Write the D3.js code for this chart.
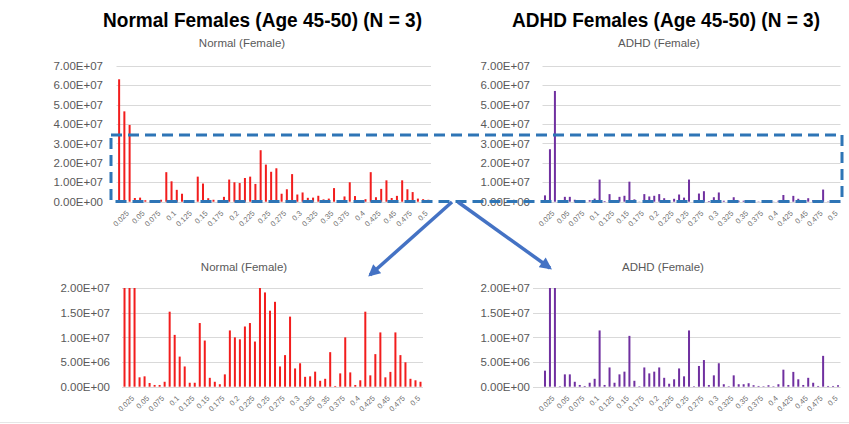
<!DOCTYPE html>
<html>
<head>
<meta charset="utf-8">
<script src="https://cdn.jsdelivr.net/npm/d3@7"></script>
<style>
  body { margin: 0; background: #fff; }
  svg { display: block; font-family: "Liberation Sans", Arial, sans-serif; }
</style>
</head>
<body>
<div id="container"></div>
<script>
// bins along the x axis, only every third one gets a label
const bins = d3.range(60)
const xLabels = ['0.025', '0.05', '0.075', '0.1', '0.125', '0.15', '0.175', '0.2', '0.225', '0.25',
    '0.275', '0.3', '0.325', '0.35', '0.375', '0.4', '0.425', '0.45', '0.475', '0.5']
const labelBins = xLabels.map((d, i) => 1 + i * 3)

const normalFemale = [
    63e6, 46.5e6, 39.5e6, 1.9e6, 2.1e6, 0.75e6, 0.35e6, 0.35e6, 1.0e6, 15.2e6,
    10.5e6, 6.1e6, 4.1e6, 0.8e6, 0.8e6, 12.9e6, 9.35e6, 1.8e6, 1.0e6, 0.5e6,
    2.5e6, 11.4e6, 10.0e6, 9.6e6, 12.2e6, 12.9e6, 9.15e6, 26.5e6, 19.1e6, 15.4e6,
    17.2e6, 4.1e6, 6.4e6, 14.2e6, 3.7e6, 4.75e6, 2.0e6, 2.1e6, 3.05e6, 1.2e6,
    1.6e6, 7.0e6, 0.15e6, 2.7e6, 10.0e6, 2.9e6, 0.35e6, 1.3e6, 15.2e6, 2.3e6,
    6.6e6, 11.0e6, 1.9e6, 3.0e6, 11.0e6, 6.4e6, 4.95e6, 1.6e6, 1.3e6, 1.0e6
]
const adhdFemale = [
    3.25e6, 27e6, 57e6, 0.1e6, 2.5e6, 2.5e6, 1.0e6, 0.35e6, 0.15e6, 0.8e6,
    1.6e6, 11.4e6, 0.35e6, 3.9e6, 0.8e6, 2.5e6, 3.05e6, 10.3e6, 1.2e6, 0.1e6,
    3.9e6, 2.7e6, 3.05e6, 3.9e6, 1.8e6, 0.6e6, 1.5e6, 3.7e6, 2.1e6, 11.4e6,
    0.1e6, 4.2e6, 5.4e6, 0.35e6, 2.3e6, 4.75e6, 0.5e6, 0.1e6, 2.3e6, 0.5e6,
    0.5e6, 0.7e6, 0.3e6, 0.15e6, 0.1e6, 0.3e6, 0.1e6, 0.5e6, 3.45e6, 0.35e6,
    3.0e6, 1.5e6, 0.35e6, 1.8e6, 0.8e6, 0.15e6, 6.25e6, 0.15e6, 0.15e6, 0.3e6
]
const fullTicks = [0, 1e7, 2e7, 3e7, 4e7, 5e7, 6e7, 7e7]
const zoomTicks = [0, 5e6, 1e7, 1.5e7, 2e7]

const width = 849
const height = 424

// Excel style 7.00E+07
const sci = v => {
    if (v === 0) return '0.00E+00'
    const e = Math.floor(Math.log10(v))
    return (v / 10 ** e).toFixed(2) + 'E+' + String(e).padStart(2, '0')
}

const svg = d3.select('#container')
    .append('svg')
    .attr('width', width)
    .attr('height', height)

svg.append('line')
    .attr('x1', 0).attr('x2', width)
    .attr('y1', 422.5).attr('y2', 422.5)
    .attr('stroke', '#e6e6e6')

const titles = [
    { text: 'Normal Females (Age 45-50) (N = 3)', x: 262.5, len: 319 },
    { text: 'ADHD Females (Age 45-50) (N = 3)', x: 666, len: 308 }
]
svg.selectAll('.title').data(titles)
    .join('text')
    .attr('class', 'title')
    .attr('x', d => d.x)
    .attr('y', 27)
    .attr('text-anchor', 'middle')
    .attr('font-size', 20)
    .attr('font-weight', 'bold')
    .attr('textLength', d => d.len)
    .attr('lengthAdjust', 'spacingAndGlyphs')
    .attr('fill', '#000')
    .text(d => d.text)

const panels = [
    { name: 'Normal (Female)', data: normalFemale, color: '#f21d1d', x0: 116.5, x1: 431, gridX: 116.5,
      yTop: 65.7, yBot: 201.7, max: 7e7, ticks: fullTicks, labelX: 103, sub: [242, 47] },
    { name: 'ADHD (Female)', data: adhdFemale, color: '#7030a0', x0: 542.5, x1: 840.5, gridX: 542.5,
      yTop: 65.7, yBot: 201.7, max: 7e7, ticks: fullTicks, labelX: 530, sub: [659, 47] },
    { name: 'Normal (Female)', data: normalFemale, color: '#f21d1d', x0: 122, x1: 423, gridX: 122,
      yTop: 288, yBot: 386.7, max: 2e7, ticks: zoomTicks, labelX: 110, sub: [244, 271] },
    { name: 'ADHD (Female)', data: adhdFemale, color: '#7030a0', x0: 542.5, x1: 840.5, gridX: 533,
      yTop: 288, yBot: 386.7, max: 2e7, ticks: zoomTicks, labelX: 530, sub: [663, 271] }
]

panels.forEach(p => {
    const g = svg.append('g')

    const xScale = d3.scaleBand()
        .domain(bins)
        .range([p.x0, p.x1])
    const yScale = d3.scaleLinear()
        .domain([0, p.max])
        .range([p.yBot, p.yTop])
        .clamp(true)

    g.append('text')
        .attr('x', p.sub[0])
        .attr('y', p.sub[1])
        .attr('text-anchor', 'middle')
        .attr('font-size', 11.5)
        .attr('fill', '#595959')
        .text(p.name)

    g.selectAll('.grid').data(p.ticks)
        .join('line')
        .attr('class', 'grid')
        .attr('x1', p.gridX)
        .attr('x2', p.x1)
        .attr('y1', d => Math.round(yScale(d)) + 0.5)
        .attr('y2', d => Math.round(yScale(d)) + 0.5)
        .attr('stroke', '#d9d9d9')

    const yAxis = d3.axisLeft(yScale)
        .tickValues(p.ticks)
        .tickFormat(sci)
        .tickSize(0)
        .tickPadding(0)
    g.append('g')
        .attr('transform', `translate(${p.labelX}, 0)`)
        .call(yAxis)
        .call(a => a.select('.domain').remove())
        .selectAll('text')
        .attr('font-size', 11.5)
        .attr('fill', '#595959')

    const xAxis = d3.axisBottom(xScale)
        .tickValues(labelBins)
        .tickFormat(i => xLabels[(i - 1) / 3])
        .tickSize(0)
    g.append('g')
        .attr('transform', `translate(0, ${p.yBot})`)
        .call(xAxis)
        .call(a => a.select('.domain').remove())
        .selectAll('text')
        .attr('font-size', 7.5)
        .attr('fill', '#6f6f6f')
        .attr('text-anchor', 'end')
        .attr('dy', 0)
        .attr('transform', 'translate(3, 10) rotate(-45)')

    g.selectAll('.bar').data(p.data)
        .join('rect')
        .attr('class', 'bar')
        .attr('x', (d, i) => xScale(i) + xScale.bandwidth() / 2 - 1)
        .attr('width', 2)
        .attr('y', d => yScale(d))
        .attr('height', d => p.yBot - yScale(d))
        .attr('fill', p.color)
})

// dashed box over the low part of both top charts
svg.append('rect')
    .attr('x', 111)
    .attr('y', 135)
    .attr('width', 731)
    .attr('height', 66.5)
    .attr('fill', 'none')
    .attr('stroke', '#2e75b6')
    .attr('stroke-width', 3)
    .attr('stroke-dasharray', '11,6')

svg.append('defs').append('marker')
    .attr('id', 'head')
    .attr('markerUnits', 'userSpaceOnUse')
    .attr('viewBox', '0 0 10 10')
    .attr('refX', 8)
    .attr('refY', 5)
    .attr('markerWidth', 13)
    .attr('markerHeight', 12)
    .attr('orient', 'auto')
    .append('path')
    .attr('d', 'M0,0 L10,5 L0,10 Z')
    .attr('fill', '#4472c4')

const arrows = [
    { x1: 452, y1: 202, x2: 370, y2: 275 },
    { x1: 458, y1: 202, x2: 550, y2: 268 }
]
svg.selectAll('.arrow').data(arrows)
    .join('line')
    .attr('class', 'arrow')
    .attr('x1', d => d.x1).attr('y1', d => d.y1)
    .attr('x2', d => d.x2).attr('y2', d => d.y2)
    .attr('stroke', '#4472c4')
    .attr('stroke-width', 3.5)
    .attr('marker-end', 'url(#head)')
</script>
</body>
</html>
